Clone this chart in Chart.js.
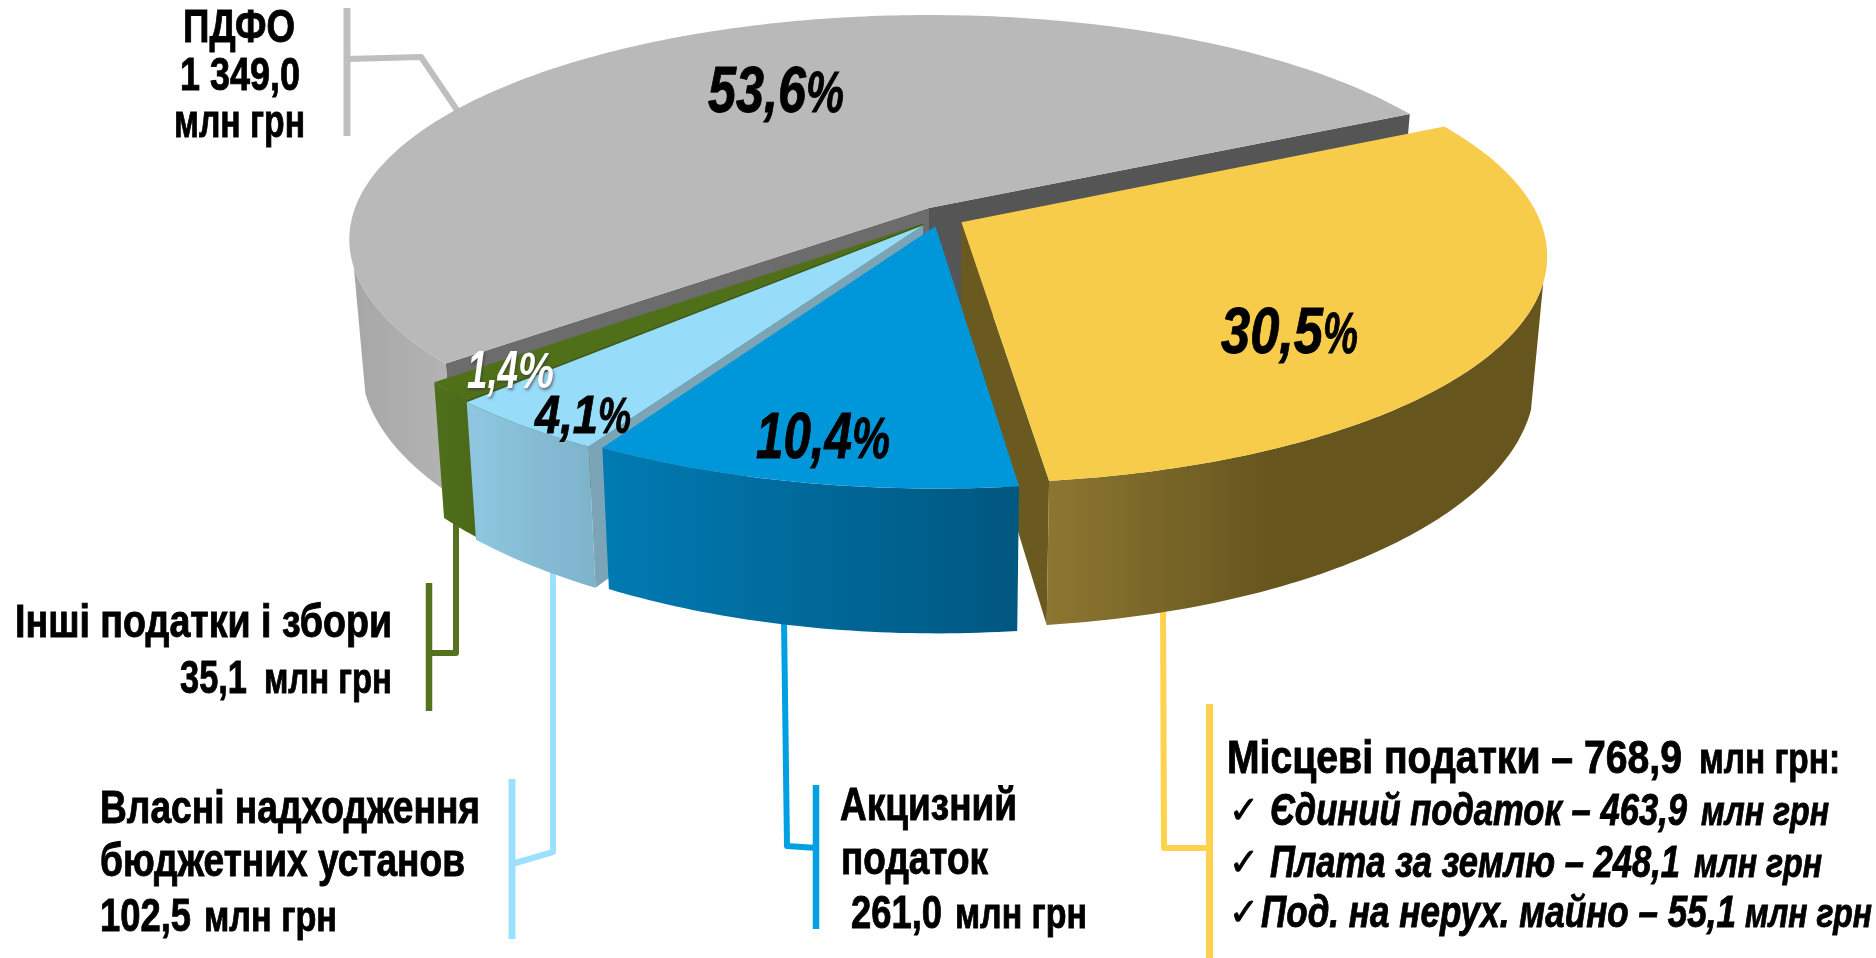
<!DOCTYPE html>
<html lang="uk">
<head>
    <meta charset="UTF-8">
    <title>Доходи бюджету</title>
    <script src="https://cdn.jsdelivr.net/npm/chart.js"></script>
    <style>
        html, body { margin: 0; padding: 0; background: #fff; overflow: hidden; }
        canvas { display: block; }
    </style>
</head>
<body>
    <canvas id="pie" width="1876" height="958"></canvas>

    <script>
        // дані
        const categories = ['ПДФО', 'Місцеві податки', 'Акцизний податок', 'Власні надходження бюджетних установ', 'Інші податки і збори'];
        const values = [1349.0, 768.9, 261.0, 102.5, 35.1];

        // кольори сегментів
        const topColors = ['#b9b9b9', '#f7cc4b', '#0097da', '#97dcf9', '#4f7019'];
        const startWallColors = ['#6c6c6c', '#6b5a20', '#005f8a', '#7ba4b6', '#3f5a14'];
        const endWallColors = ['#555555', '#6b5a20', '#005f8a', '#7ba4b6', '#3f5a14'];
        const outerWallStops = [
            [349, '#a6a6a6', 445, '#b3b3b3'],
            [1047, '#8c7631', 1270, '#66561e'],
            [607, '#007ab2', 1017, '#005780'],
            [477, '#8dc6de', 597, '#7db2cb'],
            [434, '#4f6f1b', 477, '#4b6818']
        ];
        // порядок малювання: від дальнього сегмента до ближнього
        const paintOrder = [0, 4, 3, 1, 2];
        // зсув сегментів у площині кола
        const explodeU = [0, 0.056, 0.011, -0.01, -0.01];
        const explodeV = [0, 0.064, 0.082, 0.078, 0.07];

        // перспектива: верхня і нижня площина
        const cam = { cx: 929, rx: 574, ry: 220, k: 0.14, wallSin: 0.25 };
        const planes = [{ cy: 208, fx: 1, fy: 1 }, { cy: 329, fx: 0.98, fy: 1.085 }];

        function project(u, v, plane) {
            const s = 1 / (1 - cam.k * v);
            const p = planes[plane];
            return [cam.cx + p.fx * cam.rx * u * s, p.cy + p.fy * cam.ry * v * s];
        }

        function rim(i, a0, a1, plane, frontOnly) {
            const pts = [];
            const n = Math.max(2, Math.ceil(Math.abs(a1 - a0) / 0.015));
            for (let j = 0; j <= n; j++) {
                const a = a0 + (a1 - a0) * j / n;
                if (!frontOnly || Math.sin(a) > cam.wallSin) {
                    pts.push(project(Math.cos(a) + explodeU[i], Math.sin(a) + explodeV[i], plane));
                }
            }
            return pts;
        }

        function fillPoly(ctx, pts, fill) {
            ctx.beginPath();
            pts.forEach((p, j) => j ? ctx.lineTo(p[0], p[1]) : ctx.moveTo(p[0], p[1]));
            ctx.closePath();
            ctx.fillStyle = fill;
            ctx.fill();
        }

        // чи видно радіальну стінку з точки камери
        function faces(nx, ny, i) {
            return nx * (0 - explodeU[i]) + ny * (1 / cam.k - explodeV[i]) > 0;
        }

        function drawSlice(ctx, el, i) {
            const a0 = el.startAngle, a1 = el.endAngle;
            const apexTop = project(explodeU[i], explodeV[i], 0);
            const apexBottom = project(explodeU[i], explodeV[i], 1);
            const edge = (a, plane) => project(Math.cos(a) + explodeU[i], Math.sin(a) + explodeV[i], plane);

            if (faces(Math.sin(a0), -Math.cos(a0), i)) {
                fillPoly(ctx, [apexTop, edge(a0, 0), edge(a0, 1), apexBottom], startWallColors[i]);
            }
            if (faces(-Math.sin(a1), Math.cos(a1), i)) {
                fillPoly(ctx, [apexTop, edge(a1, 0), edge(a1, 1), apexBottom], endWallColors[i]);
            }

            // зовнішня стінка
            const wallTop = rim(i, a0, a1, 0, true);
            const wallBottom = rim(i, a0, a1, 1, true);
            if (wallTop.length) {
                const st = outerWallStops[i];
                const g = ctx.createLinearGradient(st[0], 0, st[2], 0);
                g.addColorStop(0, st[1]);
                g.addColorStop(1, st[3]);
                fillPoly(ctx, wallTop.concat(wallBottom.reverse()), g);
            }

            // верх
            fillPoly(ctx, [apexTop].concat(rim(i, a0, a1, 0, false)), topColors[i]);
        }

        // виноски
        const leaders = [
            { color: '#bfbfbf', w: 6, pts: [[347, 59], [421, 57], [459, 113]] },
            { color: '#bfbfbf', w: 7, pts: [[347, 8], [347, 136]] },
            { color: '#ffd24d', w: 6, pts: [[1163, 600], [1164, 848], [1209, 848]] },
            { color: '#ffd24d', w: 7, pts: [[1209.5, 704], [1209.5, 958]] },
            { color: '#00a0e3', w: 6, pts: [[784, 620], [787, 846], [817, 848]] },
            { color: '#00a0e3', w: 6.5, pts: [[816, 785], [816, 929]] },
            { color: '#9be1ff', w: 6, pts: [[553, 560], [553, 852], [512, 864]] },
            { color: '#9be1ff', w: 7, pts: [[512, 779], [512, 939]] },
            { color: '#56721f', w: 6, pts: [[456, 520], [456, 653], [429, 653]] },
            { color: '#56721f', w: 6.5, pts: [[429, 583], [429, 711]] }
        ];

        // підписи: текст, лівий край, ширина, базова лінія, шрифт
        const B = 'bold 46px "Liberation Sans"';
        const S = 'bold 42px "Liberation Sans"';
        const I = 'italic bold 44px "Liberation Sans"';
        const IS = 'italic bold 40px "Liberation Sans"';
        const P = 'italic bold 64px "Liberation Sans"';
        const PP = 'italic bold 58px "Liberation Sans"';
        const Q = 'italic bold 54px "Liberation Sans"';
        const QQ = 'italic bold 50px "Liberation Sans"';
        const textRuns = [
            ['ПДФО', 183, 112, 42, B],
            ['1 349,0', 180, 120, 90, B],
            ['млн грн', 174, 131, 137, B],
            ['Інші податки і збори', 15, 377, 637, B],
            ['35,1', 180, 67, 693, B],
            ['млн грн', 264, 128, 693, S],
            ['Власні надходження', 100, 380, 823, B],
            ['бюджетних установ', 100, 365, 876, B],
            ['102,5', 100, 91, 931, B],
            ['млн грн', 204, 133, 931, S],
            ['Акцизний', 840, 177, 820, B],
            ['податок', 841, 147, 874, B],
            ['261,0', 851, 91, 928, B],
            ['млн грн', 955, 132, 928, S],
            ['Місцеві податки – 768,9', 1227, 455, 773, B],
            ['млн грн:', 1699, 141, 773, S],
            ['Єдиний податок – 463,9', 1270, 417, 825, I],
            ['млн грн', 1701, 128, 825, IS],
            ['Плата за землю – 248,1', 1270, 410, 877, I],
            ['млн грн', 1694, 128, 877, IS],
            ['Под. на нерух. майно – 55,1', 1261, 475, 927, I],
            ['млн грн', 1745, 127, 927, IS],
            ['53,6', 708, 98, 112, P],
            ['%', 806, 38, 112, PP],
            ['30,5', 1221, 102, 353, P],
            ['%', 1323, 35, 353, PP],
            ['10,4', 756, 96, 458, P],
            ['%', 852, 38, 458, PP],
            ['4,1', 535, 63, 433, Q],
            ['%', 598, 33, 433, QQ]
        ];
        const whiteRuns = [
            ['1,4', 467, 51, 388, Q],
            ['%', 518, 36, 388, QQ]
        ];
        const checkMarks = [[1229, 823], [1229, 875], [1229, 925]];

        const pie3d = {
            id: 'pie3d',
            beforeDatasetDraw(chart, args) {
                const ctx = chart.ctx;
                ctx.save();
                ctx.lineCap = 'butt';
                ctx.lineJoin = 'round';
                leaders.forEach(l => {
                    ctx.beginPath();
                    l.pts.forEach((p, j) => j ? ctx.lineTo(p[0], p[1]) : ctx.moveTo(p[0], p[1]));
                    ctx.strokeStyle = l.color;
                    ctx.lineWidth = l.w;
                    ctx.stroke();
                });
                paintOrder.forEach(i => drawSlice(ctx, args.meta.data[i], i));
                ctx.restore();
                return false;
            },
            afterDraw(chart) {
                const ctx = chart.ctx;
                ctx.save();
                ctx.textAlign = 'left';
                ctx.textBaseline = 'alphabetic';
                ctx.fillStyle = '#000';
                ctx.strokeStyle = '#000';
                ctx.lineWidth = 0.9;
                textRuns.forEach(r => {
                    ctx.font = r[4];
                    ctx.fillText(r[0], r[1], r[3], r[2]);
                    ctx.strokeText(r[0], r[1], r[3], r[2]);
                });
                ctx.font = '38px "DejaVu Sans"';
                checkMarks.forEach(c => {
                    ctx.fillText('✓', c[0], c[1], 30);
                    ctx.strokeText('✓', c[0], c[1], 30);
                });
                ctx.shadowColor = 'rgba(60,60,60,0.7)';
                ctx.shadowBlur = 3;
                ctx.shadowOffsetX = 1;
                ctx.shadowOffsetY = 2;
                ctx.fillStyle = '#fff';
                whiteRuns.forEach(r => {
                    ctx.font = r[4];
                    ctx.fillText(r[0], r[1], r[3], r[2]);
                });
                ctx.restore();
            }
        };

        new Chart(document.getElementById('pie').getContext('2d'), {
            type: 'pie',
            data: {
                labels: categories,
                datasets: [{ data: values, backgroundColor: topColors, borderWidth: 0 }]
            },
            options: {
                responsive: false,
                animation: false,
                rotation: 230,
                plugins: { legend: { display: false }, tooltip: { enabled: false } }
            },
            plugins: [pie3d]
        });
    </script>
</body>
</html>
